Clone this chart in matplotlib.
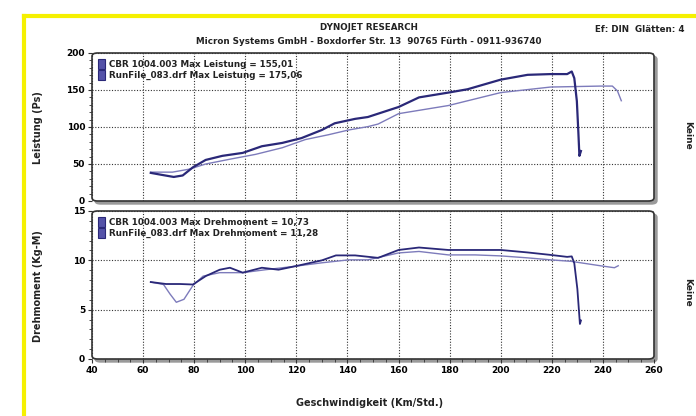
import matplotlib
matplotlib.use("Agg")
import matplotlib.pyplot as plt
from matplotlib.patches import FancyBboxPatch, Rectangle
from matplotlib.lines import Line2D
from matplotlib.ticker import MultipleLocator

# power curves (Ps over km/h)
speed_p_a = [63, 67, 72, 75.5, 79.5, 84.5, 91, 99, 106.5, 114.5, 122, 130, 135, 143, 148,
             152, 160, 168, 179.5, 187, 200, 210.5, 219.5, 226, 227.8, 228.8, 229.8, 230.4, 230.8, 231.4]
power_a = [38, 35.5, 32.5, 34.5, 45.5, 55.5, 61, 65, 74, 78.5, 85, 96, 105, 111, 113.5,
           118, 127, 140, 146.5, 151, 164, 170.5, 171.5, 171.5, 175, 166, 135, 92, 61, 67.5]
speed_p_b = [63, 71.5, 78, 84.5, 94, 104, 114.5, 123.5, 132.5, 140.5, 148, 152, 160, 179.5,
             200, 219.5, 239, 243.7, 245.7, 247.2]
power_b = [39, 39, 43, 50, 56.5, 63, 72, 83, 89.5, 96, 100.5, 104, 118, 129,
           146.5, 154, 155.3, 155.3, 148.7, 135.5]

# torque curves (Kg-M over km/h)
speed_t_a = [63, 69, 74.5, 79.5, 84.5, 90, 94, 99, 106.5, 113, 119.5, 130, 135.5, 143, 152,
             160, 168, 179.5, 190, 200, 210.5, 219.5, 226, 227.8, 228.8, 230, 231, 231.4]
torque_a = [7.8, 7.6, 7.6, 7.55, 8.4, 9.05, 9.25, 8.75, 9.25, 9.05, 9.4, 10.0, 10.5, 10.5, 10.25,
            11.05, 11.3, 11.05, 11.05, 11.05, 10.8, 10.55, 10.35, 10.4, 9.7, 7.1, 3.55, 3.9]
speed_t_b = [63, 68, 70.5, 73, 76, 79.5, 83.5, 90, 99, 108, 119.5, 130, 140.5, 148, 160,
             168, 179.5, 190, 200, 210.5, 219.5, 227.5, 239, 244.5, 246]
torque_b = [7.8, 7.55, 6.6, 5.75, 6.05, 7.45, 8.4, 8.75, 8.75, 9.05, 9.4, 9.75, 10.05, 10.05, 10.75,
            10.9, 10.55, 10.55, 10.45, 10.25, 10.05, 9.9, 9.45, 9.25, 9.45]

legend_power = ["CBR 1004.003 Max Leistung = 155,01", "RunFile_083.drf Max Leistung = 175,06"]
legend_torque = ["CBR 1004.003 Max Drehmoment = 10,73", "RunFile_083.drf Max Drehmoment = 11,28"]
x_ticks = list(range(40, 261, 20))

dark = "#2a2878"
light = "#7d7bbb"

fig = plt.figure(figsize=(6.96, 4.16), dpi=100)
fig.patch.set_facecolor("white")
plt.rcParams["font.family"] = "DejaVu Sans"

W, H = 696, 416
left, right = 92 / W, 654 / W
ax1 = fig.add_axes([left, 1 - 201 / H, right - left, 148 / H])
ax2 = fig.add_axes([left, 1 - 359 / H, right - left, 148 / H])


def frame(ax):
    pos = ax.get_position()
    dx, dy = 3 / W, 3 / H
    shadow = FancyBboxPatch((pos.x0 + dx, pos.y0 - dy), pos.width, pos.height,
                            boxstyle="round,pad=0,rounding_size=0.008",
                            transform=fig.transFigure, facecolor="#9a9a9a",
                            edgecolor="#9a9a9a", zorder=-3)
    box = FancyBboxPatch((pos.x0, pos.y0), pos.width, pos.height,
                         boxstyle="round,pad=0,rounding_size=0.008",
                         transform=fig.transFigure, facecolor="white",
                         edgecolor="#333333", linewidth=1.2, zorder=-2)
    fig.patches.extend([shadow, box])
    ax.set_facecolor("none")
    for s in ax.spines.values():
        s.set_visible(False)


for ax in (ax1, ax2):
    frame(ax)
    ax.set_xlim(40, 260)
    ax.set_xticks(x_ticks)
    ax.xaxis.set_minor_locator(MultipleLocator(5))
    ax.grid(True, which="major", color="#333333", linestyle=(0, (1, 1.5)), linewidth=0.8)
    ax.tick_params(axis="both", which="major", length=3, width=0.8, color="#333333",
                   labelsize=6.5, pad=2)
    ax.tick_params(axis="both", which="minor", length=2, width=0.6, color="#333333")
    ax.tick_params(axis="x", which="both", top=False)

# power panel
ax1.plot(speed_p_b, power_b, color=light, linewidth=1.0)
ax1.plot(speed_p_a, power_a, color=dark, linewidth=1.6)
ax1.set_ylim(0, 200)
ax1.set_yticks([0, 50, 100, 150, 200])
ax1.yaxis.set_minor_locator(MultipleLocator(10))
ax1.tick_params(axis="x", which="both", labelbottom=False, length=0)
for lab in ax1.get_yticklabels():
    lab.set_fontweight("bold")

# torque panel
ax2.plot(speed_t_b, torque_b, color=light, linewidth=1.0)
ax2.plot(speed_t_a, torque_a, color=dark, linewidth=1.3)
ax2.set_ylim(0, 15)
ax2.set_yticks([0, 5, 10, 15])
ax2.yaxis.set_minor_locator(MultipleLocator(1))
for lab in ax2.get_yticklabels() + ax2.get_xticklabels():
    lab.set_fontweight("bold")

for ax, labels in ((ax1, legend_power), (ax2, legend_torque)):
    handles = [Rectangle((0, 0), 1, 1, facecolor="#5452a8", edgecolor=dark, linewidth=0.8)
               for _ in labels]
    leg = ax.legend(handles, labels, loc="upper left", frameon=False, fontsize=6.3,
                    handlelength=0.8, handleheight=1.4, handletextpad=0.4,
                    labelspacing=0.05, borderaxespad=0.3)
    for t in leg.get_texts():
        t.set_fontweight("bold")
        t.set_color("#222222")

# texts
fig.text(369 / W, 1 - 28 / H, "DYNOJET RESEARCH", ha="center", va="center",
         fontsize=6.3, fontweight="bold", color="#222222")
fig.text(369 / W, 1 - 41 / H, "Micron Systems GmbH - Boxdorfer Str. 13  90765 F\u00fcrth - 0911-936740",
         ha="center", va="center", fontsize=6.3, fontweight="bold", color="#222222")
fig.text(640 / W, 1 - 29 / H, "Ef: DIN  Gl\u00e4tten: 4", ha="center", va="center",
         fontsize=6.3, fontweight="bold", color="#222222")
fig.text(38 / W, 1 - 128 / H, "Leistung (Ps)", rotation=90, ha="center", va="center",
         fontsize=7, fontweight="bold", color="#222222")
fig.text(38 / W, 1 - 286 / H, "Drehmoment (Kg-M)", rotation=90, ha="center", va="center",
         fontsize=7, fontweight="bold", color="#222222")
fig.text(688 / W, 1 - 135 / H, "Keine", rotation=-90, ha="center", va="center",
         fontsize=6.5, fontweight="bold", color="#222222")
fig.text(688 / W, 1 - 292 / H, "Keine", rotation=-90, ha="center", va="center",
         fontsize=6.5, fontweight="bold", color="#222222")
fig.text(370 / W, 1 - 403 / H, "Geschwindigkeit (Km/Std.)", ha="center", va="center",
         fontsize=7, fontweight="bold", color="#222222")

# yellow border (left and top)
fig.add_artist(Line2D([24 / W, 24 / W], [0, 1 - 16 / H], transform=fig.transFigure,
                      color="#f5f000", linewidth=3))
fig.add_artist(Line2D([24 / W, 1], [1 - 16 / H, 1 - 16 / H], transform=fig.transFigure,
                      color="#f5f000", linewidth=3))

fig.savefig("out.png", dpi=100, facecolor="white")
